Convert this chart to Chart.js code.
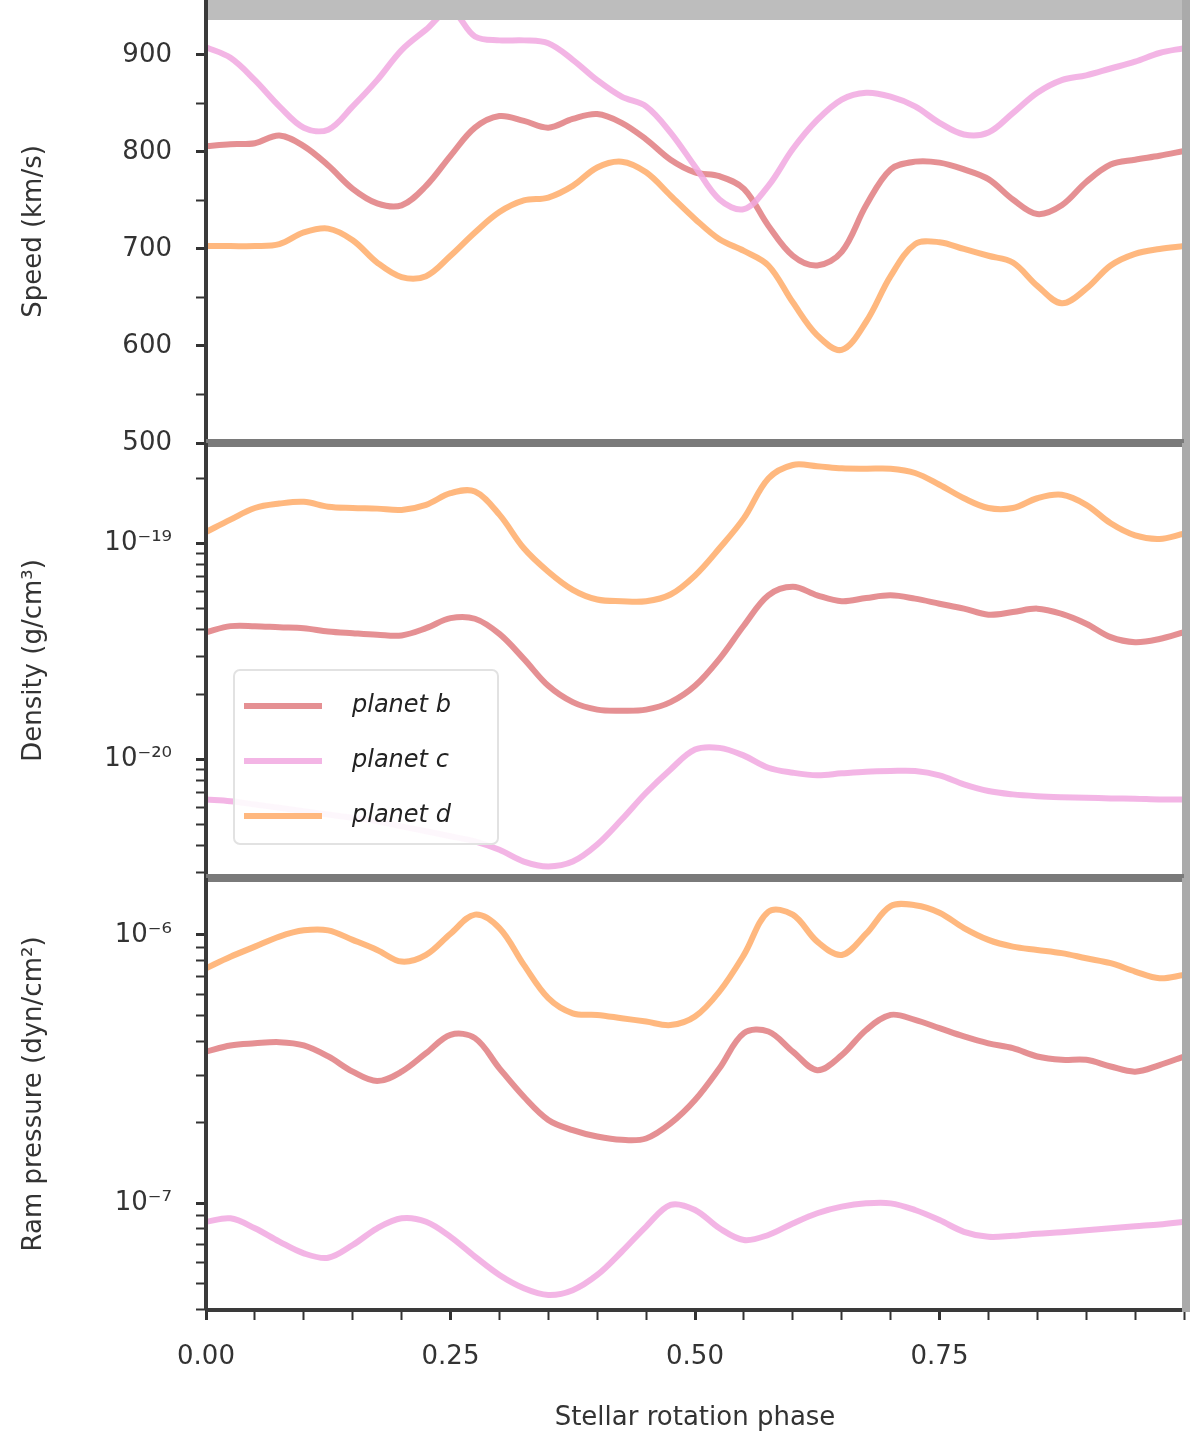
<!DOCTYPE html>
<html>
<head>
<meta charset="utf-8">
<script src="https://cdn.jsdelivr.net/npm/chart.js@4.4.1/dist/chart.umd.min.js"></script>
<style>
  html, body { margin: 0; padding: 0; background: #fff; }
  #wrap { position: relative; width: 1200px; height: 1452px; }
  canvas { position: absolute; left: 0; }
</style>
</head>
<body>
<div id="wrap">
  <canvas id="speedChart" width="1200" height="460" style="top:0px"></canvas>
  <canvas id="densChart" width="1200" height="460" style="top:430px"></canvas>
  <canvas id="ramChart" width="1200" height="587" style="top:865px"></canvas>
</div>
<script>
// stellar rotation phase samples
const phase = [0, 0.025, 0.05, 0.075, 0.1, 0.125, 0.15, 0.175, 0.2, 0.225, 0.25, 0.275, 0.3, 0.325, 0.35, 0.375, 0.4, 0.425, 0.45, 0.475, 0.5,
  0.525, 0.55, 0.575, 0.6, 0.625, 0.65, 0.675, 0.7, 0.725, 0.75, 0.775, 0.8, 0.825, 0.85, 0.875, 0.9, 0.925, 0.95, 0.975, 1];

const planetNames = ['planet b', 'planet c', 'planet d'];

// speed (km/s)
const speedB = [806, 808, 809, 817, 806, 786, 762, 747, 745, 765, 796, 825, 837, 832, 825, 834, 839, 830, 813, 792, 779,
  775, 762, 724, 693, 683, 697, 745, 782, 790, 789, 782, 772, 751, 736, 745, 769, 787, 792, 796, 801];
const speedC = [908, 897, 874, 847, 825, 823, 847, 874, 905, 926, 946, 919, 915, 915, 912, 895, 874, 857, 847, 820, 785,
  751, 741, 765, 803, 833, 854, 861, 857, 847, 830, 818, 820, 840, 861, 874, 879, 886, 893, 902, 907];
const speedD = [703, 703, 703, 705, 717, 721, 709, 686, 671, 672, 693, 717, 738, 750, 753, 765, 784, 790, 779, 755, 731,
  710, 698, 683, 645, 611, 596, 625, 672, 705, 707, 700, 693, 686, 662, 644, 659, 683, 695, 700, 703];

// density (g/cm^3)
const densB = [3.88e-20, 4.14e-20, 4.14e-20, 4.09e-20, 4.05e-20, 3.91e-20, 3.84e-20, 3.78e-20, 3.75e-20, 4.05e-20, 4.51e-20,
  4.48e-20, 3.81e-20, 2.92e-20, 2.19e-20, 1.84e-20, 1.70e-20, 1.68e-20, 1.70e-20, 1.84e-20, 2.19e-20,
  2.92e-20, 4.17e-20, 5.75e-20, 6.30e-20, 5.75e-20, 5.40e-20, 5.59e-20, 5.75e-20, 5.55e-20, 5.26e-20,
  4.99e-20, 4.68e-20, 4.81e-20, 4.99e-20, 4.72e-20, 4.25e-20, 3.68e-20, 3.49e-20, 3.61e-20, 3.88e-20];
const densC = [6.52e-21, 6.40e-21, 6.18e-21, 5.96e-21, 5.75e-21, 5.55e-21, 5.36e-21, 5.17e-21, 4.89e-21, 4.64e-21, 4.40e-21,
  4.17e-21, 3.81e-21, 3.36e-21, 3.19e-21, 3.36e-21, 4.03e-21, 5.26e-21, 7.00e-21, 8.98e-21, 1.11e-20,
  1.13e-20, 1.04e-20, 9.14e-21, 8.67e-21, 8.43e-21, 8.61e-21, 8.77e-21, 8.83e-21, 8.83e-21, 8.43e-21,
  7.66e-21, 7.13e-21, 6.88e-21, 6.75e-21, 6.68e-21, 6.64e-21, 6.59e-21, 6.57e-21, 6.52e-21, 6.52e-21];
const densD = [1.13e-19, 1.29e-19, 1.46e-19, 1.53e-19, 1.56e-19, 1.48e-19, 1.46e-19, 1.45e-19, 1.43e-19, 1.51e-19, 1.71e-19,
  1.74e-19, 1.36e-19, 9.5e-20, 7.4e-20, 6.1e-20, 5.5e-20, 5.4e-20, 5.4e-20, 5.8e-20, 7.1e-20,
  9.5e-20, 1.31e-19, 2.0e-19, 2.31e-19, 2.28e-19, 2.23e-19, 2.22e-19, 2.22e-19, 2.12e-19, 1.87e-19,
  1.62e-19, 1.46e-19, 1.46e-19, 1.62e-19, 1.68e-19, 1.51e-19, 1.24e-19, 1.09e-19, 1.05e-19, 1.11e-19];

// ram pressure (dyn/cm^2)
const ramB = [3.67e-7, 3.87e-7, 3.94e-7, 3.98e-7, 3.87e-7, 3.52e-7, 3.09e-7, 2.85e-7, 3.09e-7, 3.62e-7, 4.24e-7,
  4.12e-7, 3.18e-7, 2.49e-7, 2.04e-7, 1.87e-7, 1.77e-7, 1.72e-7, 1.74e-7, 1.98e-7, 2.42e-7,
  3.18e-7, 4.30e-7, 4.36e-7, 3.67e-7, 3.13e-7, 3.56e-7, 4.42e-7, 5.03e-7, 4.82e-7, 4.49e-7,
  4.18e-7, 3.94e-7, 3.78e-7, 3.52e-7, 3.42e-7, 3.42e-7, 3.23e-7, 3.09e-7, 3.27e-7, 3.52e-7];
const ramC = [8.51e-8, 8.77e-8, 8.05e-8, 7.18e-8, 6.49e-8, 6.25e-8, 6.97e-8, 8.05e-8, 8.77e-8, 8.51e-8, 7.48e-8,
  6.31e-8, 5.39e-8, 4.81e-8, 4.54e-8, 4.73e-8, 5.39e-8, 6.58e-8, 8.17e-8, 9.84e-8, 9.42e-8,
  8.05e-8, 7.28e-8, 7.60e-8, 8.39e-8, 9.16e-8, 9.69e-8, 9.97e-8, 9.97e-8, 9.42e-8, 8.64e-8,
  7.81e-8, 7.48e-8, 7.55e-8, 7.68e-8, 7.78e-8, 7.91e-8, 8.05e-8, 8.19e-8, 8.32e-8, 8.51e-8];
const ramD = [7.51e-7, 8.29e-7, 9.04e-7, 9.86e-7, 1.04e-6, 1.04e-6, 9.58e-7, 8.79e-7, 7.95e-7, 8.42e-7, 1.01e-6,
  1.19e-6, 1.06e-6, 7.73e-7, 5.81e-7, 5.10e-7, 5.03e-7, 4.89e-7, 4.75e-7, 4.61e-7, 4.96e-7,
  6.15e-7, 8.42e-7, 1.22e-6, 1.19e-6, 9.44e-7, 8.42e-7, 1.01e-6, 1.28e-6, 1.29e-6, 1.21e-6,
  1.06e-6, 9.58e-7, 9.04e-7, 8.79e-7, 8.55e-7, 8.18e-7, 7.84e-7, 7.30e-7, 6.89e-7, 7.09e-7];

// ticks
const xTicks = [0, 0.05, 0.1, 0.15, 0.2, 0.25, 0.3, 0.35, 0.4, 0.45, 0.5, 0.55, 0.6, 0.65, 0.7, 0.75, 0.8, 0.85, 0.9, 0.95, 1];
const xMajor = [0, 0.25, 0.5, 0.75];
const xMajorLabels = ['0.00', '0.25', '0.50', '0.75'];

const speedTicks = [500, 550, 600, 650, 700, 750, 800, 850, 900];
const speedMajor = [500, 600, 700, 800, 900];
const speedMajorLabels = ['500', '600', '700', '800', '900'];

const densTicks = [3e-21, 4e-21, 5e-21, 6e-21, 7e-21, 8e-21, 9e-21, 1e-20, 2e-20, 3e-20, 4e-20, 5e-20, 6e-20, 7e-20, 8e-20, 9e-20, 1e-19, 2e-19];
const densMajor = [1e-20, 1e-19];
const densMajorLabels = ['10⁻²⁰', '10⁻¹⁹'];

const ramTicks = [4e-8, 5e-8, 6e-8, 7e-8, 8e-8, 9e-8, 1e-7, 2e-7, 3e-7, 4e-7, 5e-7, 6e-7, 7e-7, 8e-7, 9e-7, 1e-6];
const ramMajor = [1e-7, 1e-6];
const ramMajorLabels = ['10⁻⁷', '10⁻⁶'];

const colors = ['rgba(224,125,128,0.85)', 'rgba(241,168,224,0.85)', 'rgba(255,172,104,0.85)'];

Chart.defaults.font.family = '"DejaVu Sans", sans-serif';
Chart.defaults.font.size = 26;
Chart.defaults.color = '#333';

function findLabel(v, majors, labels) {
  for (let i = 0; i < majors.length; i++) {
    const tol = majors[i] === 0 ? 1e-9 : Math.abs(majors[i]) * 1e-6;
    if (Math.abs(v - majors[i]) <= tol) return labels[i];
  }
  return '';
}

// panel frame, drawn on top of the lines
function framePlugin(cfg) {
  return {
    id: 'frame',
    afterDraw(chart) {
      const a = chart.chartArea, ctx = chart.ctx;
      ctx.save();
      if (cfg.topBand) {
        ctx.fillStyle = '#bdbdbd';
        ctx.fillRect(a.left, 0, a.right - a.left, a.top);
      } else {
        ctx.strokeStyle = '#7a7a7a'; ctx.lineWidth = 8;
        ctx.beginPath(); ctx.moveTo(a.left, a.top); ctx.lineTo(a.right, a.top); ctx.stroke();
      }
      ctx.strokeStyle = cfg.bottomDark ? '#3a3a3a' : '#7a7a7a';
      ctx.lineWidth = cfg.bottomDark ? 4 : 8;
      ctx.beginPath(); ctx.moveTo(a.left, a.bottom); ctx.lineTo(a.right, a.bottom); ctx.stroke();
      ctx.strokeStyle = '#aaaaaa'; ctx.lineWidth = 8;
      ctx.beginPath(); ctx.moveTo(a.right + 2, cfg.topBand ? 0 : a.top); ctx.lineTo(a.right + 2, a.bottom + 2); ctx.stroke();
      ctx.strokeStyle = '#3a3a3a'; ctx.lineWidth = 4;
      ctx.beginPath(); ctx.moveTo(a.left, cfg.topBand ? 0 : a.top); ctx.lineTo(a.left, a.bottom); ctx.stroke();
      ctx.restore();
    }
  };
}

const legendPlugin = {
  id: 'boxLegend',
  afterDraw(chart) {
    const a = chart.chartArea, ctx = chart.ctx;
    const x = a.left + 28, y = a.top + 227, w = 264, h = 174;
    ctx.save();
    ctx.fillStyle = 'rgba(255,255,255,0.9)';
    ctx.strokeStyle = '#e2e2e2'; ctx.lineWidth = 2;
    ctx.beginPath(); ctx.roundRect(x, y, w, h, 6); ctx.fill(); ctx.stroke();
    chart.data.datasets.forEach((ds, i) => {
      const ry = y + 36 + i * 55;
      ctx.strokeStyle = ds.borderColor; ctx.lineWidth = 6;
      ctx.beginPath(); ctx.moveTo(x + 10, ry); ctx.lineTo(x + 88, ry); ctx.stroke();
      ctx.fillStyle = '#222';
      ctx.font = 'italic 24px "DejaVu Sans", sans-serif';
      ctx.textBaseline = 'middle';
      ctx.fillText(ds.label, x + 118, ry);
    });
    ctx.restore();
  }
};

function makePanel(id, p) {
  const isMajor = v => findLabel(v, p.major, p.majorLabels) !== '';
  const series = [p.b, p.c, p.d];
  return new Chart(document.getElementById(id), {
    type: 'line',
    data: {
      datasets: series.map((vals, k) => ({
        label: planetNames[k],
        data: vals.map((v, i) => ({ x: phase[i], y: v })),
        borderColor: colors[k],
        borderWidth: 6,
        pointRadius: 0,
        tension: 0.35,
        fill: false,
        order: 2 - k
      }))
    },
    options: {
      responsive: false,
      animation: false,
      devicePixelRatio: 1,
      layout: { padding: { left: 0, right: 16, top: p.padTop, bottom: p.padBottom } },
      plugins: { legend: { display: false }, tooltip: { enabled: false } },
      scales: {
        x: {
          type: 'linear', min: 0, max: 1, display: p.showX,
          afterFit: s => {
            s.paddingLeft = 0; s.paddingRight = 0;
            s.height = p.showX ? 142 : 0;
          },
          afterBuildTicks: s => { s.ticks = xTicks.map(v => ({ value: v })); },
          ticks: { autoSkip: false, maxRotation: 0, padding: 22, color: '#333',
            callback: v => findLabel(v, xMajor, xMajorLabels) },
          grid: { drawOnChartArea: false, tickLength: 10, tickColor: '#333',
            tickWidth: c => (c.tick && findLabel(c.tick.value, xMajor, xMajorLabels) !== '') ? 3 : 2 },
          border: { display: false },
          title: { display: true, text: 'Stellar rotation phase', color: '#333', padding: { top: 0, bottom: 18 } }
        },
        y: {
          type: p.type, min: p.min, max: p.max,
          afterFit: s => { s.width = 206; s.paddingTop = 0; s.paddingBottom = 0; },
          afterBuildTicks: s => { s.ticks = p.ticks.map(v => ({ value: v })); },
          ticks: { autoSkip: false, padding: 24, color: '#333',
            callback: v => findLabel(v, p.major, p.majorLabels) },
          grid: { drawOnChartArea: false, tickLength: 10, tickColor: '#333',
            tickWidth: c => (c.tick && isMajor(c.tick.value)) ? 3 : 2 },
          border: { display: false },
          title: { display: true, text: p.title, color: '#333', padding: { top: 19, bottom: 0 } }
        }
      }
    },
    plugins: p.extra ? [framePlugin(p.frame), p.extra] : [framePlugin(p.frame)]
  });
}

makePanel('speedChart', {
  b: speedB, c: speedC, d: speedD, type: 'linear', min: 500, max: 936,
  ticks: speedTicks, major: speedMajor, majorLabels: speedMajorLabels,
  title: 'Speed (km/s)', padTop: 20, padBottom: 17, showX: false,
  frame: { topBand: true, bottomDark: false }
});

makePanel('densChart', {
  b: densB, c: densC, d: densD, type: 'logarithmic', min: 2.82e-21, max: 2.92e-19,
  ticks: densTicks, major: densMajor, majorLabels: densMajorLabels,
  title: 'Density (g/cm³)', padTop: 13, padBottom: 12, showX: false,
  frame: { topBand: false, bottomDark: false }, extra: legendPlugin
});

makePanel('ramChart', {
  b: ramB, c: ramC, d: ramD, type: 'logarithmic', min: 3.99e-8, max: 1.63e-6,
  ticks: ramTicks, major: ramMajor, majorLabels: ramMajorLabels,
  title: 'Ram pressure (dyn/cm²)', padTop: 13, padBottom: 0, showX: true,
  frame: { topBand: false, bottomDark: true }
});
</script>
</body>
</html>
